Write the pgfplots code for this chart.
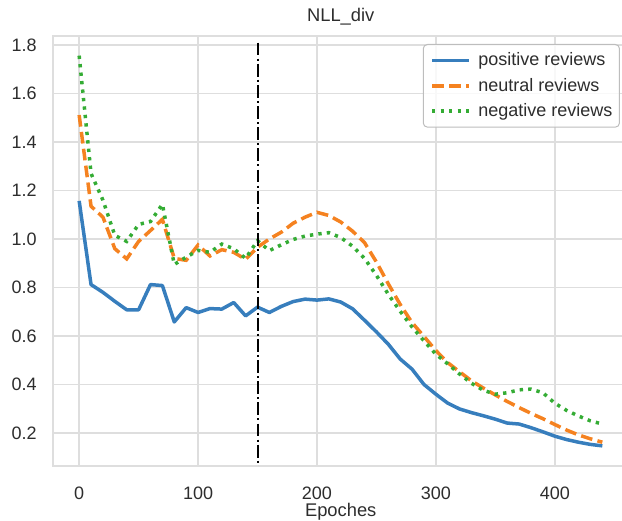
\documentclass[border=0pt]{standalone}
\usepackage{fontspec}
\setmainfont{Liberation Sans}
\usepackage{pgfplots}
\pgfplotsset{compat=1.18}
\usepackage{pgfplotstable}
\definecolor{cblue}{RGB}{55,126,189}
\definecolor{corange}{RGB}{245,130,32}
\definecolor{cgreen}{RGB}{52,172,52}
\definecolor{gridc}{RGB}{222,222,222}
\definecolor{txt}{RGB}{45,45,45}

\pgfplotstableread{
x pos neu neg
0 1.157 1.511 1.756
10 0.812 1.135 1.270
20 0.780 1.090 1.160
30 0.743 0.960 1.015
40 0.708 0.918 0.990
50 0.708 0.990 1.060
60 0.812 1.035 1.072
70 0.808 1.081 1.143
80 0.658 0.920 0.895
90 0.717 0.912 0.925
100 0.697 0.975 0.953
110 0.713 0.930 0.945
120 0.711 0.956 0.979
130 0.738 0.945 0.960
140 0.683 0.916 0.920
150 0.719 0.966 0.993
160 0.697 1.000 0.952
170 0.722 1.028 0.976
180 0.742 1.065 0.998
190 0.752 1.090 1.012
200 0.748 1.110 1.020
210 0.753 1.097 1.026
220 0.740 1.070 1.006
230 0.712 1.032 0.970
240 0.665 0.985 0.920
250 0.617 0.905 0.850
260 0.566 0.815 0.772
270 0.505 0.730 0.702
280 0.463 0.655 0.637
290 0.400 0.598 0.580
300 0.360 0.540 0.525
310 0.323 0.490 0.485
320 0.299 0.452 0.443
330 0.284 0.415 0.405
340 0.271 0.385 0.376
350 0.257 0.357 0.360
360 0.241 0.330 0.366
370 0.237 0.305 0.378
380 0.222 0.281 0.381
390 0.205 0.259 0.366
400 0.187 0.235 0.323
410 0.173 0.212 0.293
420 0.162 0.192 0.270
430 0.153 0.176 0.250
440 0.147 0.162 0.237
}\data

\begin{document}
\begin{tikzpicture}
\begin{axis}[
  name=ax,
  scale only axis,
  width=345.3pt, height=258pt,
  xmin=-22, xmax=462, ymin=0.064, ymax=1.837,
  xtick={0,100,200,300,400},
  ytick={0.2,0.4,0.6,0.8,1.0,1.2,1.4,1.6,1.8},
  yticklabel style={/pgf/number format/.cd, fixed, fixed zerofill, precision=1},
  /pgf/number format/assume math mode=true,
  tick label style={font=\fontsize{10.8}{13}\selectfont, text=txt},
  xticklabel shift=9pt,
  yticklabel shift=6.3pt,
  major tick length=0pt,
  grid=major,
  major grid style={draw=gridc, line width=0.9pt},
  axis line style={draw=gridc, line width=0.9pt},
  title={NLL\_div},
  title style={at={(axis description cs:0.5,1)}, anchor=base, yshift=2.4pt, font=\fontsize{11}{13}\selectfont, text=txt},
  xlabel={Epoches},
  xlabel style={at={(axis description cs:0.5,0)}, anchor=base, yshift=-30.3pt, font=\fontsize{11}{13}\selectfont, text=txt},
  legend cell align=left,
  legend image code/.code={\draw[#1] (0pt,0pt) -- (22pt,0pt);},
  legend style={at={(1,1)}, anchor=north east, xshift=-5.1pt, yshift=-4.8pt,
    draw=gridc!85!black, rounded corners=2.5pt, fill=white, fill opacity=0.8,
    text opacity=1, draw opacity=1, line width=0.6pt,
    font=\fontsize{10.8}{13}\selectfont, text=txt,
    nodes={inner xsep=0pt},
    inner xsep=4.2pt, inner ysep=3pt, row sep=1.8pt,
    /tikz/every odd column/.append style={column sep=4.8pt}},
]
\addplot[cblue, line width=2.1pt, line join=round] table[x=x, y=pos] {\data};
\addlegendentry{positive reviews}
\addplot[corange, line width=2.1pt, dash pattern=on 7pt off 3.2pt] table[x=x, y=neu] {\data};
\addlegendentry{neutral reviews}
\addplot[cgreen, line width=2.1pt, dash pattern=on 2pt off 3.1pt] table[x=x, y=neg] {\data};
\addlegendentry{negative reviews}
\addplot[black, line width=1.2pt, dash pattern=on 7.7pt off 1.9pt on 1.2pt off 1.9pt, forget plot] coordinates {(150,1.81) (150,0.064)};
\end{axis}
\pgfresetboundingbox
\path[use as bounding box] (ax.south west) ++(-31.8pt,-33pt) rectangle ++(373.2pt,312.6pt);
\end{tikzpicture}
\end{document}
